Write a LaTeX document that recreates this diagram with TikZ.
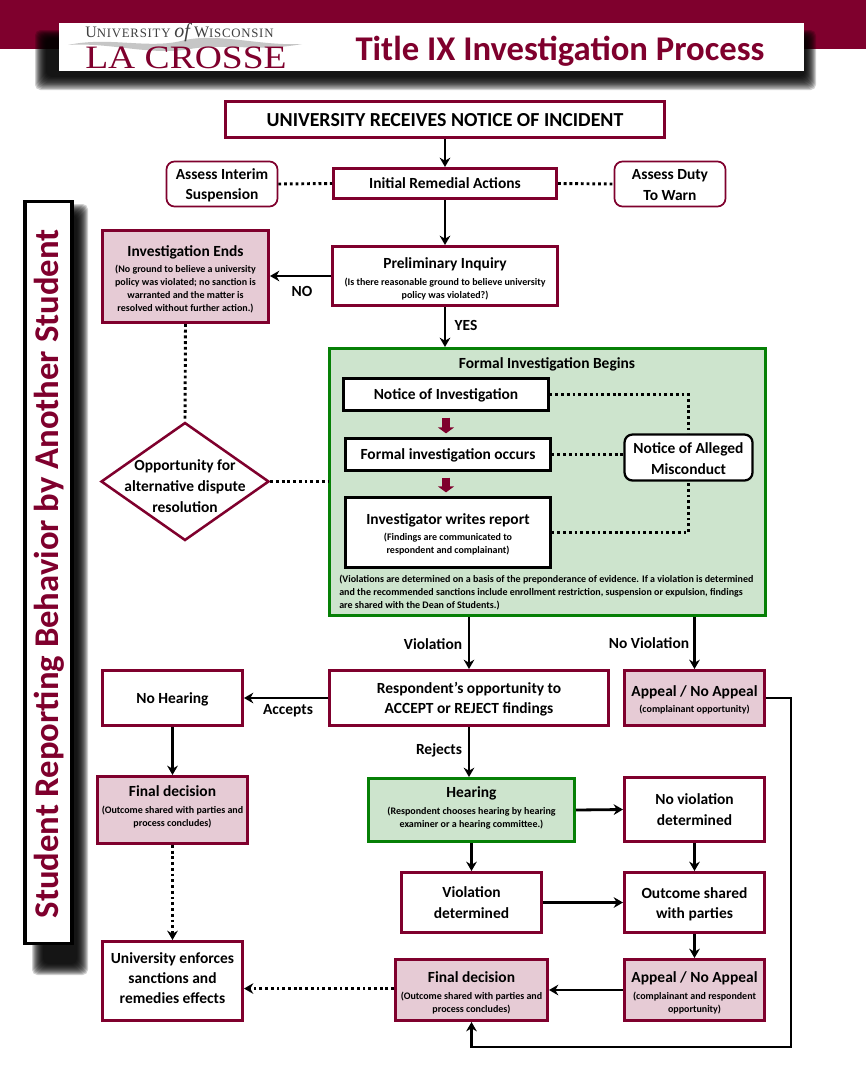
\documentclass[tikz,border=0pt]{standalone}
\usepackage{graphicx}
\usepackage{fontspec}
\setmainfont{Carlito}
\newfontfamily\logofont{Liberation Serif}
\newfontfamily\logospaced[LetterSpace=6]{Liberation Serif}
\usetikzlibrary{arrows.meta,shapes.geometric}
\definecolor{umaroon}{HTML}{7F002D}
\definecolor{upink}{HTML}{E6CBD5}
\definecolor{ugreen}{HTML}{CDE4CD}
\definecolor{ugreenb}{HTML}{068006}
\newdimen\dnunit \dnunit=1.5pt
\newcommand\dn[1]{\def\dnamt{-#1}}
\newcommand\ma{\fontsize{11.6}{15.2}\selectfont\bfseries}
\newcommand\su{\fontsize{7.5}{9.75}\selectfont\bfseries}
\newcommand\subt{\par\vskip 2.6pt\su}
\newcommand\bxn[7]{\node[#6, anchor=center, text width={(#4-#2-3)*0.75pt}, minimum height={(#5-#3-3)*0.75pt}] (#1) at ({(#2+#4)/2},{(#3+#5)/2}) {\def\dnamt{0}#7\par\vskip\dnamt\dnunit\kern0pt};}
\tikzset{
  base/.style={draw=umaroon,line width=2.25pt,fill=white,inner sep=0pt,align=flush center,text=black},
  pinkbox/.style={base,fill=upink},
  softbox/.style={base,line width=1.3pt,rounded corners=6pt},
  greenbox/.style={base,draw=ugreenb,fill=ugreen},
  blackbox/.style={base,draw=black,line width=1.7pt},
  arr/.style={line width=2.1pt,draw=black,-{Stealth[length=7pt,width=8pt]}},
  dot/.style={line width=2.2pt,draw=black,dash pattern=on 2.1pt off 2.2pt},
  dotarr/.style={dot,-{Stealth[length=7pt,width=8pt]}},
  blockarr/.style={draw=umaroon,line width=6.5pt,-{Triangle[length=4.5pt,width=12pt]},shorten <=4.5pt,shorten >=3pt},
  lab/.style={inner sep=0pt,font=\ma,text=black}
}
\begin{document}
\begin{tikzpicture}[x=0.75pt,y=-0.75pt]
\useasboundingbox (0,0) rectangle (866,1078);
\fill[white] (0,0) rectangle (866,1078);
% banner
\fill[umaroon] (0,0) rectangle (866,49);
\foreach \i in {0,...,11}{
  \fill[black,opacity=0.18,rounded corners=4pt] ({35+\i},{30+\i*0.8}) rectangle ({816-\i},{90-1.2*\i});
}
\fill[white] (59,23) rectangle (804,71);
% logo wave
\fill[gray!45] (68,45) .. controls (110,36) and (150,50) .. (185,40) .. controls (220,33) and (260,46) .. (302,44)
  .. controls (260,52) and (225,43) .. (190,49) .. controls (150,56) and (110,42) .. (68,45) -- cycle;
\node[inner sep=0pt,anchor=west,text=black!75] (logoa) at (85,33) {\logospaced\fontsize{12}{11}\selectfont U\fontsize{9.6}{11}\selectfont NIVERSITY {\logofont\itshape\fontsize{15}{11}\selectfont of} \fontsize{12}{11}\selectfont W\fontsize{9.6}{11}\selectfont ISCONSIN};
\node[inner sep=0pt,anchor=west,text=umaroon] (logob) at (85,57.5) {\scalebox{1.15}[1]{\logofont\fontsize{24.5}{24}\selectfont LA CROSSE}};
\node[inner sep=0pt,text=umaroon] (title) at (560,51) {\fontsize{26}{30}\selectfont\bfseries Title IX Investigation Process};
% sidebar
\foreach \i in {0,...,11}{
  \fill[black,opacity=0.18,rounded corners=4pt] ({32+\i},{204+\i}) rectangle ({88-\i},{975-\i});
}
\node[draw=black,line width=2.6pt,fill=white,minimum width={47*0.75pt},minimum height={742*0.75pt},inner sep=0pt] (side) at (48.5,572.5) {};
\node[rotate=90,inner sep=0pt,text=umaroon] (sidet) at (49,574) {\fontsize{26}{30}\selectfont\bfseries Student Reporting Behavior by Another Student};
% top boxes
\bxn{notice}{224}{100}{666}{139}{base}{\dn{2}\fontsize{14.9}{18}\selectfont\bfseries UNIVERSITY RECEIVES NOTICE OF INCIDENT}
\bxn{interim}{165}{160}{279}{208}{softbox}{\dn{1}\ma Assess Interim\\Suspension}
\bxn{initial}{332}{167}{558}{200}{base}{\dn{1}\ma Initial Remedial Actions}
\bxn{duty}{613}{160}{727}{208}{softbox}{\dn{1}\ma Assess Duty\\To Warn}
\bxn{ends}{101}{229}{270}{324}{pinkbox}{\dn{3}\ma Investigation Ends\subt (No ground to believe a university\\policy was violated; no sanction is\\warranted and the matter is\\resolved without further action.)}
\bxn{prelim}{331}{245}{559}{307}{base}{\dn{3}\ma Preliminary Inquiry\subt (Is there reasonable ground to believe university\\policy was violated?)}
% diamond
\node[diamond,draw=umaroon,line width=1.9pt,fill=white,aspect=1.42,minimum width={168*0.75pt},minimum height={118*0.75pt},inner sep=0pt] (dia) at (185,481.5) {};
\node[inner sep=0pt,align=flush center,text width={150*0.75pt},text=black] (diat) at (185,486) {\fontsize{11.6}{15.7}\selectfont\bfseries Opportunity for\\alternative dispute\\resolution\par};
% green panel
\bxn{green}{328}{347}{767}{617}{greenbox}{}
\node[lab] (greent) at (547,364) {Formal Investigation Begins};
\bxn{ninv}{342}{377}{550}{412}{blackbox}{\dn{1}\ma Notice of Investigation}
\bxn{formal}{344}{437}{552}{472}{blackbox}{\dn{2}\ma Formal investigation occurs}
\bxn{report}{344}{496}{552}{569}{blackbox}{\dn{2}\ma Investigator writes report\subt (Findings are communicated to\\respondent and complainant)}
\bxn{alleged}{623}{433}{754}{482}{blackbox,rounded corners=6pt}{\dn{1}\ma Notice of Alleged\\Misconduct}
\node[inner sep=0pt,anchor=west,text width={425*0.75pt},align=flush left,text=black] (gnote) at (339,593) {\su (Violations are determined on a basis of the preponderance of evidence. If a violation is determined\\and the recommended sanctions include enrollment restriction, suspension or expulsion, findings\\are shared with the Dean of Students.)\par};
% lower boxes
\bxn{resp}{328}{669}{610}{727}{base}{\dn{1}\ma Respondent’s opportunity to\\ACCEPT or REJECT findings}
\bxn{appa}{623}{669}{766}{727}{pinkbox}{\dn{2}\ma Appeal / No Appeal\subt (complainant opportunity)}
\bxn{nohear}{101}{669}{244}{727}{base}{\dn{2}\ma No Hearing}
\bxn{fina}{96}{775}{249}{845}{pinkbox}{\dn{-3}\ma Final decision\subt (Outcome shared with parties and\\process concludes)}
\bxn{hear}{367}{777}{576}{843}{greenbox}{\dn{-2}\ma Hearing\subt (Respondent chooses hearing by hearing\\examiner or a hearing committee.)}
\bxn{noviol}{623}{776}{766}{843}{base}{\ma No violation\\determined}
\bxn{viol}{400}{871}{543}{934}{base}{\ma Violation\\determined}
\bxn{outc}{623}{871}{766}{934}{base}{\dn{2}\ma Outcome shared\\with parties}
\bxn{enf}{101}{940}{244}{1022}{base}{\dn{-3}\ma University enforces\\sanctions and\\remedies effects}
\bxn{finb}{394}{958}{549}{1022}{pinkbox}{\dn{3}\ma Final decision\subt (Outcome shared with parties and\\process concludes)}
\bxn{appb}{623}{958}{766}{1022}{pinkbox}{\dn{3}\ma Appeal / No Appeal\subt (complainant and respondent\\opportunity)}
% labels
\node[lab] (lno) at (302,291) {NO};
\node[lab] (lyes) at (466,325) {YES};
\node[lab] (lviol) at (433,644) {Violation};
\node[lab] (lnov) at (649,643) {No Violation};
\node[lab] (lacc) at (288,711) {Accepts};
\node[lab] (lrej) at (439,750) {Rejects};
% connectors
\draw[arr] (notice.south) -- (initial.north);
\draw[arr] (initial.south) -- (prelim.north);
\draw[dot] (interim.east) -- (initial.west);
\draw[dot] (initial.east) -- (duty.west);
\draw[arr] (prelim.west) -- (ends.east |- prelim.west);
\draw[arr] (prelim.south) -- (prelim.south |- green.north);
\draw[dot] (ends.south) -- (dia.north);
\draw[dot] (dia.east) -- (green.west |- dia.east);
\draw[dot] (ninv.east) -| (alleged.north);
\draw[dot] (formal.east) -- (formal.east -| alleged.west);
\draw[dot] (report.east) -| (alleged.south);
\draw[blockarr] (ninv.south) -- (ninv.south |- formal.north);
\draw[blockarr] (ninv.south |- formal.south) -- (ninv.south |- report.north);
\draw[arr] (green.south -| resp.north) -- (resp.north);
\draw[arr] (green.south -| appa.north) -- (appa.north);
\draw[arr] (resp.west) -- (nohear.east);
\draw[arr] (nohear.south) -- (fina.north);
\draw[dotarr] (fina.south) -- (enf.north);
\draw[arr] (resp.south) -- (resp.south |- hear.north);
\draw[arr] (hear.east) -- (noviol.west);
\draw[arr] (hear.south) -- (viol.north);
\draw[arr] (noviol.south) -- (outc.north);
\draw[arr] (viol.east) -- (outc.west);
\draw[arr] (outc.south) -- (appb.north);
\draw[arr] (appb.west) -- (finb.east);
\draw[dotarr] ([yshift=1.1pt]finb.west) -- ([yshift=1.1pt]finb.west -| enf.east);
\coordinate (loopa) at (791,698);
\coordinate (loopb) at (791,1047);
\draw[arr,line join=miter] (appa.east) -- (loopa) -- (loopb) -- (loopb -| finb.south) -- (finb.south);
\end{tikzpicture}
\end{document}
